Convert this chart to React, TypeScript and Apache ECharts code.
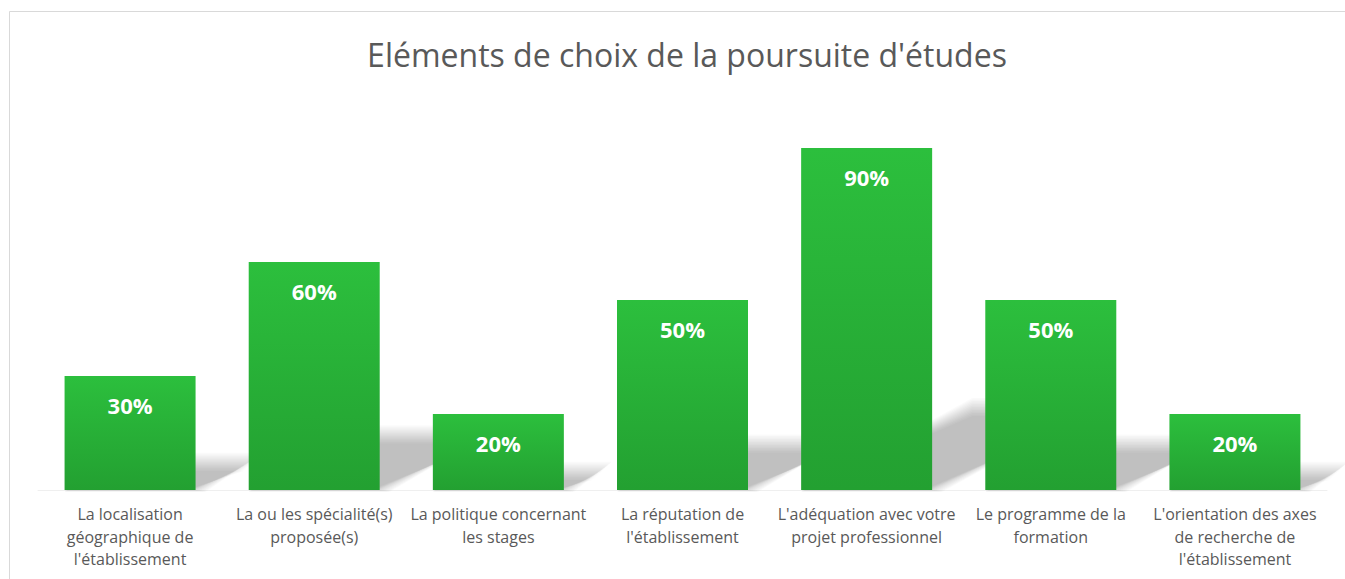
import React, { useEffect, useRef } from "react";
import * as echarts from "echarts";

const categories = [
  "La localisation\ngéographique de\nl'établissement",
  "La ou les spécialité(s)\nproposée(s)",
  "La politique concernant\nles stages",
  "La réputation de\nl'établissement",
  "L'adéquation avec votre\nprojet professionnel",
  "Le programme de la\nformation",
  "L'orientation des axes\nde recherche de\nl'établissement",
];
const values = [30, 60, 20, 50, 90, 50, 20];
const title = "Eléments de choix de la poursuite d'études";

export default function App() {
  const ref = useRef<HTMLDivElement>(null);
  useEffect(() => {
    if (!ref.current) return;
    const chart = echarts.init(ref.current, null, { renderer: "svg" });
    const BAR_W = 131;
    chart.setOption({
      animation: false,
      backgroundColor: "#ffffff",
      title: {
        text: title,
        left: 682,
        textAlign: "center",
        top: 33,
        textStyle: {
          fontFamily: "Open Sans",
          fontSize: 32,
          fontWeight: "normal",
          color: "#595959",
        },
      },
      graphic: [
        {
          type: "rect",
          shape: { x: 9.5, y: 11.5, width: 1500, height: 800 },
          style: { fill: "none", stroke: "#d9d9d9", lineWidth: 1 },
          silent: true,
          z: -10,
        },
      ],
      grid: { left: 38, right: 18, top: 110, bottom: 89 },
      xAxis: {
        type: "category",
        data: categories,
        axisTick: { show: false },
        axisLine: { show: true, lineStyle: { color: "#efefef", width: 1 } },
        axisLabel: {
          interval: 0,
          color: "#595959",
          fontFamily: "Open Sans",
          fontSize: 16,
          lineHeight: 22.5,
          margin: 13,
        },
      },
      yAxis: {
        type: "value",
        min: 0,
        max: 100,
        show: false,
        splitLine: { show: false },
      },
      series: [
        {
          type: "custom",
          z: 1,
          silent: true,
          data: values.map((v, i) => [i, v]),
          encode: { x: 0, y: 1 },
          renderItem: (params: any, api: any) => {
            const base = api.coord([api.value(0), 0]);
            const top = api.coord([api.value(0), api.value(1)]);
            const h = base[1] - top[1];
            const l = base[0] - BAR_W / 2;
            const r = base[0] + BAR_W / 2;
            const y0 = base[1];
            const sx = 0.5 * h;
            const sy = 0.24 * h;
            const layers: any[] = [];
            for (let d = -8; d <= 10; d += 1.5) {
              const ty = Math.min(y0 - 2, y0 - sy - d);
              layers.push({
                type: "polygon",
                shape: {
                  points: [
                    [l, y0 + Math.max(0, d) * 0.2],
                    [r + d, y0 + Math.max(0, d) * 0.2],
                    [r + sx + d, ty],
                    [l + sx, ty],
                  ],
                },
                style: { fill: "rgba(0,0,0,0.018)" },
              });
            }
            return { type: "group", children: layers };
          },
        },
        {
          type: "bar",
          z: 5,
          data: values,
          barWidth: BAR_W,
          itemStyle: {
            color: new echarts.graphic.LinearGradient(0, 0, 0, 1, [
              { offset: 0, color: "#2cbf3d" },
              { offset: 1, color: "#23a031" },
            ]),
          },
          label: {
            show: true,
            position: "insideTop",
            distance: 18,
            formatter: "{c}%",
            color: "#ffffff",
            fontFamily: "Open Sans",
            fontWeight: "bold",
            fontSize: 22,
          },
        },
      ],
    });
    return () => chart.dispose();
  }, []);
  return (
    <div
      ref={ref}
      style={{ position: "absolute", left: 0, top: 0, width: 1345, height: 579 }}
    />
  );
}
